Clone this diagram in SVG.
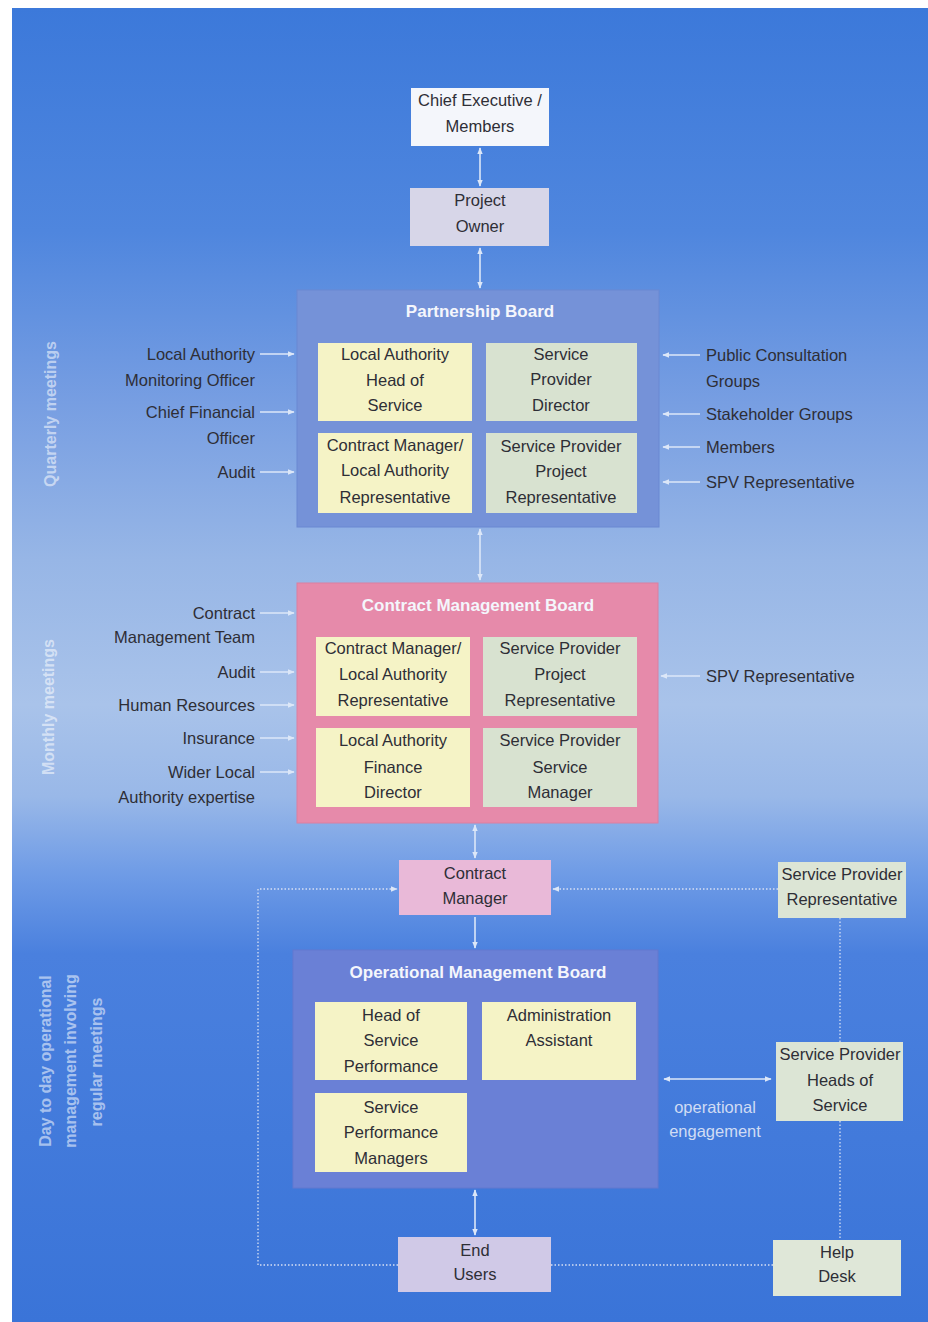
<svg xmlns="http://www.w3.org/2000/svg" width="928" height="1322" viewBox="0 0 928 1322">
<defs>
<linearGradient id="bg" x1="0" y1="0" x2="0" y2="1">
<stop offset="0" stop-color="#3c79da"/>
<stop offset="0.17" stop-color="#4f86de"/>
<stop offset="0.3" stop-color="#779ee2"/>
<stop offset="0.42" stop-color="#97b6e6"/>
<stop offset="0.53" stop-color="#a9c3ea"/>
<stop offset="0.6" stop-color="#99b8e8"/>
<stop offset="0.66" stop-color="#6e9be6"/>
<stop offset="0.72" stop-color="#4a80de"/>
<stop offset="1" stop-color="#3a74d8"/>
</linearGradient>
<marker id="ah" viewBox="0 0 10 10" refX="9" refY="5" markerWidth="7" markerHeight="7" orient="auto-start-reverse" markerUnits="userSpaceOnUse">
<path d="M0,1 L10,5 L0,9 Z" fill="#dce7f8"/>
</marker>
<style>
.t{font-family:"Liberation Sans",Arial,sans-serif;font-size:16.5px;fill:#2e2e36;}
.c{text-anchor:middle;}
.r{text-anchor:end;}
.side{font-family:"Liberation Sans",Arial,sans-serif;font-size:16px;font-weight:bold;fill:#ffffff;fill-opacity:0.55;text-anchor:middle;}
.title{font-family:"Liberation Sans",Arial,sans-serif;font-size:17px;font-weight:bold;fill:#f4f6fc;text-anchor:middle;}
.lab{font-family:"Liberation Sans",Arial,sans-serif;font-size:16.5px;fill:#d0dcf4;text-anchor:middle;}
.yel{fill:#f5f3c6;}
.grn{fill:#d8e2d0;}
.ln{stroke:#dce7f8;stroke-width:1.6;fill:none;}
.dot{stroke:#d6e0f4;stroke-width:1.3;fill:none;stroke-dasharray:1.5 2;}
</style>
</defs>
<rect x="0" y="0" width="928" height="1322" fill="#ffffff"/>
<rect x="12" y="8" width="916" height="1314" fill="url(#bg)"/>

<text class="side" transform="translate(50,414) rotate(-90)" y="6">Quarterly meetings</text>
<text class="side" transform="translate(48,707) rotate(-90)" y="6">Monthly meetings</text>
<text class="side" transform="translate(45,1061) rotate(-90)" y="6">Day to day operational</text>
<text class="side" transform="translate(70,1061) rotate(-90)" y="6">management involving</text>
<text class="side" transform="translate(96,1062) rotate(-90)" y="6">regular meetings</text>

<g id="connectors">
<path class="ln" d="M480,148 V186" marker-start="url(#ah)" marker-end="url(#ah)"/>
<path class="ln" d="M480,248 V288" marker-start="url(#ah)" marker-end="url(#ah)"/>
<path class="ln" d="M480,529 V580" marker-start="url(#ah)" marker-end="url(#ah)"/>
<path class="ln" d="M475,825 V858" marker-start="url(#ah)" marker-end="url(#ah)"/>
<path class="ln" d="M475,917 V948" marker-end="url(#ah)"/>
<path class="ln" d="M475,1190 V1235" marker-start="url(#ah)" marker-end="url(#ah)"/>
<path class="ln" d="M664,1079 H771" marker-start="url(#ah)" marker-end="url(#ah)"/>
<path class="ln" d="M260,354 H294" marker-end="url(#ah)"/>
<path class="ln" d="M260,412 H294" marker-end="url(#ah)"/>
<path class="ln" d="M260,472 H294" marker-end="url(#ah)"/>
<path class="ln" d="M700,355 H663" marker-end="url(#ah)"/>
<path class="ln" d="M700,414 H663" marker-end="url(#ah)"/>
<path class="ln" d="M700,447 H663" marker-end="url(#ah)"/>
<path class="ln" d="M700,482 H663" marker-end="url(#ah)"/>
<path class="ln" d="M260,613 H294" marker-end="url(#ah)"/>
<path class="ln" d="M260,672 H294" marker-end="url(#ah)"/>
<path class="ln" d="M260,705 H294" marker-end="url(#ah)"/>
<path class="ln" d="M260,738 H294" marker-end="url(#ah)"/>
<path class="ln" d="M260,772 H294" marker-end="url(#ah)"/>
<path class="ln" d="M700,676 H661" marker-end="url(#ah)"/>
<path class="dot" d="M398,1265 H258 V889 H397" marker-end="url(#ah)"/>
<path class="dot" d="M778,889 H553" marker-end="url(#ah)"/>
<path class="dot" d="M840,918 V1042"/>
<path class="dot" d="M840,1121 V1240"/>
<path class="dot" d="M551,1265 H773"/>
</g>

<g id="chief-executive">
<rect x="411" y="88" width="138" height="58" fill="#f4f6fb"/>
<text class="t c" x="480" y="106">Chief Executive /</text>
<text class="t c" x="480" y="132">Members</text>
</g>
<g id="project-owner">
<rect x="410" y="188" width="139" height="58" fill="#d7d6e8"/>
<text class="t c" x="480" y="206">Project</text>
<text class="t c" x="480" y="232">Owner</text>
</g>

<g id="partnership-board">
<rect x="297" y="290" width="362" height="237" fill="#7592d8" stroke="#6b88d2" stroke-width="1"/>
<text class="title" x="480" y="317">Partnership Board</text>
<rect class="yel" x="318" y="343" width="154" height="78"/>
<text class="t c" x="395" y="360">Local Authority</text>
<text class="t c" x="395" y="386">Head of</text>
<text class="t c" x="395" y="411">Service</text>
<rect class="grn" x="486" y="343" width="151" height="78"/>
<text class="t c" x="561" y="360">Service</text>
<text class="t c" x="561" y="385">Provider</text>
<text class="t c" x="561" y="411">Director</text>
<rect class="yel" x="318" y="433" width="154" height="80"/>
<text class="t c" x="395" y="451">Contract Manager/</text>
<text class="t c" x="395" y="476">Local Authority</text>
<text class="t c" x="395" y="503">Representative</text>
<rect class="grn" x="486" y="433" width="151" height="80"/>
<text class="t c" x="561" y="452">Service Provider</text>
<text class="t c" x="561" y="477">Project</text>
<text class="t c" x="561" y="503">Representative</text>
</g>

<g id="partnership-left">
<text class="t r" x="255" y="360">Local Authority</text>
<text class="t r" x="255" y="386">Monitoring Officer</text>
<text class="t r" x="255" y="418">Chief Financial</text>
<text class="t r" x="255" y="444">Officer</text>
<text class="t r" x="255" y="478">Audit</text>
</g>
<g id="partnership-right">
<text class="t" x="706" y="361">Public Consultation</text>
<text class="t" x="706" y="387">Groups</text>
<text class="t" x="706" y="420">Stakeholder Groups</text>
<text class="t" x="706" y="453">Members</text>
<text class="t" x="706" y="488">SPV Representative</text>
</g>

<g id="contract-management-board">
<rect x="297" y="583" width="361" height="240" fill="#e68aaa" stroke="#dc7fa0" stroke-width="1"/>
<text class="title" x="478" y="611">Contract Management Board</text>
<rect class="yel" x="316" y="637" width="154" height="79"/>
<text class="t c" x="393" y="654">Contract Manager/</text>
<text class="t c" x="393" y="680">Local Authority</text>
<text class="t c" x="393" y="706">Representative</text>
<rect class="grn" x="483" y="637" width="154" height="79"/>
<text class="t c" x="560" y="654">Service Provider</text>
<text class="t c" x="560" y="680">Project</text>
<text class="t c" x="560" y="706">Representative</text>
<rect class="yel" x="316" y="728" width="154" height="79"/>
<text class="t c" x="393" y="746">Local Authority</text>
<text class="t c" x="393" y="773">Finance</text>
<text class="t c" x="393" y="798">Director</text>
<rect class="grn" x="483" y="728" width="154" height="79"/>
<text class="t c" x="560" y="746">Service Provider</text>
<text class="t c" x="560" y="773">Service</text>
<text class="t c" x="560" y="798">Manager</text>
</g>

<g id="cmb-left">
<text class="t r" x="255" y="619">Contract</text>
<text class="t r" x="255" y="643">Management Team</text>
<text class="t r" x="255" y="678">Audit</text>
<text class="t r" x="255" y="711">Human Resources</text>
<text class="t r" x="255" y="744">Insurance</text>
<text class="t r" x="255" y="778">Wider Local</text>
<text class="t r" x="255" y="803">Authority expertise</text>
</g>
<g id="cmb-right">
<text class="t" x="706" y="682">SPV Representative</text>
</g>

<g id="contract-manager">
<rect x="399" y="860" width="152" height="55" fill="#e9b9d8"/>
<text class="t c" x="475" y="879">Contract</text>
<text class="t c" x="475" y="904">Manager</text>
</g>
<g id="sp-representative">
<rect x="778" y="862" width="128" height="56" fill="#dce5d5"/>
<text class="t c" x="842" y="880">Service Provider</text>
<text class="t c" x="842" y="905">Representative</text>
</g>

<g id="operational-management-board">
<rect x="293" y="950" width="365" height="238" fill="#6a80d6" stroke="#6278cf" stroke-width="1"/>
<text class="title" x="478" y="978">Operational Management Board</text>
<rect class="yel" x="315" y="1002" width="152" height="78"/>
<text class="t c" x="391" y="1021">Head of</text>
<text class="t c" x="391" y="1046">Service</text>
<text class="t c" x="391" y="1072">Performance</text>
<rect class="yel" x="482" y="1002" width="154" height="78"/>
<text class="t c" x="559" y="1021">Administration</text>
<text class="t c" x="559" y="1046">Assistant</text>
<rect class="yel" x="315" y="1093" width="152" height="79"/>
<text class="t c" x="391" y="1113">Service</text>
<text class="t c" x="391" y="1138">Performance</text>
<text class="t c" x="391" y="1164">Managers</text>
</g>

<g id="sp-heads-of-service">
<rect x="776" y="1042" width="127" height="79" fill="#dce5d5"/>
<text class="t c" x="840" y="1060">Service Provider</text>
<text class="t c" x="840" y="1086">Heads of</text>
<text class="t c" x="840" y="1111">Service</text>
</g>
<g id="operational-engagement-label">
<text class="lab" x="715" y="1113">operational</text>
<text class="lab" x="715" y="1137">engagement</text>
</g>

<g id="end-users">
<rect x="398" y="1237" width="153" height="55" fill="#d0c9e7"/>
<text class="t c" x="475" y="1256">End</text>
<text class="t c" x="475" y="1280">Users</text>
</g>
<g id="help-desk">
<rect x="773" y="1240" width="128" height="56" fill="#dfe7d8"/>
<text class="t c" x="837" y="1258">Help</text>
<text class="t c" x="837" y="1282">Desk</text>
</g>
</svg>
